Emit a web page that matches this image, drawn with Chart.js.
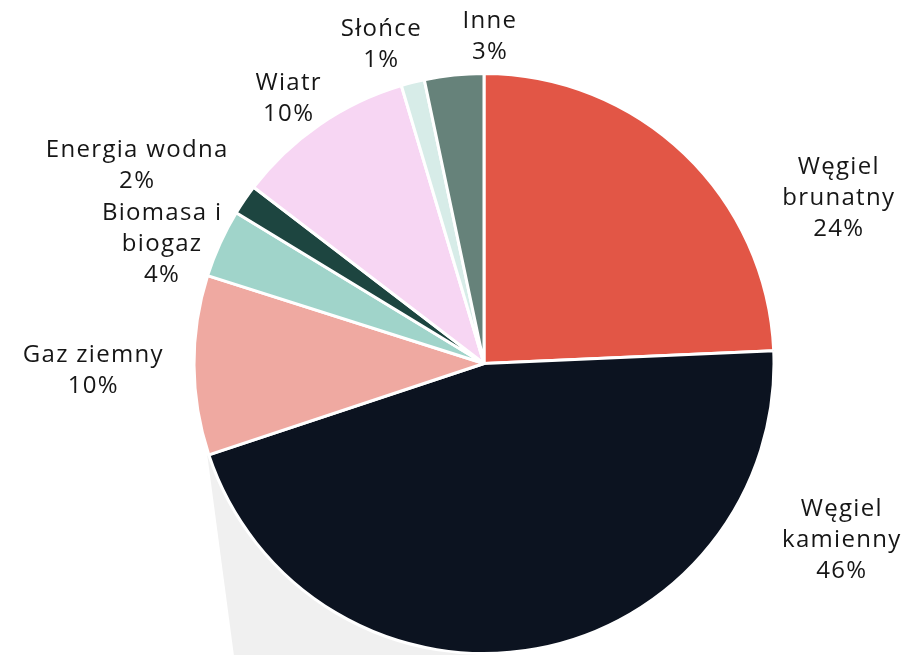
<!DOCTYPE html>
<html>
<head>
<meta charset="utf-8">
<script src="https://cdn.jsdelivr.net/npm/chart.js@4"></script>
<style>
  html, body { margin: 0; padding: 0; background: #ffffff; }
  #wrap { width: 910px; height: 655px; position: relative; }
</style>
</head>
<body>
<div id="wrap"><canvas id="c"></canvas></div>
<script>
// ---- data ----
const categories = ["Węgiel brunatny", "Węgiel kamienny", "Gaz ziemny", "Biomasa i biogaz", "Energia wodna", "Wiatr", "Słońce", "Inne"];
const labelLines = [["Węgiel", "brunatny"], ["Węgiel", "kamienny"], ["Gaz ziemny"], ["Biomasa i", "biogaz"], ["Energia wodna"], ["Wiatr"], ["Słońce"], ["Inne"]];
const shares = [24.3, 45.6, 10.0, 3.8, 1.7, 10.0, 1.3, 3.3];
const colors = ["#e25646", "#0c1320", "#efa9a1", "#a0d4ca", "#1d4540", "#f7d6f3", "#d7ece8", "#66827a"];

// ---- label layout (offsets from pie centre, in units of a 291px radius) ----
const labelOffsets = [[356, -166], [359, 177], [-392, 7], [-323, -120], [-348, -199], [-196, -266], [-103, -320], [6, -328]];

const FONT = '24px "Open Sans", sans-serif';

const shadowPlugin = {
  id: 'shadow',
  beforeDatasetsDraw(chart) {
    const meta = chart.getDatasetMeta(0);
    const arc = meta.data[1];
    if (!arc) return;
    const { x, y, outerRadius, endAngle } = arc.getProps(['x', 'y', 'outerRadius', 'endAngle'], true);
    const R = outerRadius + 1.5;
    const px = x + R * Math.cos(endAngle);
    const py = y + R * Math.sin(endAngle);
    const H = chart.height;
    const ctx = chart.ctx;
    ctx.save();
    ctx.fillStyle = '#f0f0f0';
    ctx.beginPath();
    ctx.moveTo(px, py);
    ctx.lineTo(px + (H - py) * 0.133, H);
    ctx.lineTo(x, H);
    ctx.lineTo(x, y);
    ctx.closePath();
    ctx.fill();
    ctx.restore();
  }
};

const labelPlugin = {
  id: 'outLabels',
  afterDatasetsDraw(chart) {
    const meta = chart.getDatasetMeta(0);
    const data = chart.data.datasets[0].data;
    const total = data.reduce((a, b) => a + b, 0);
    const ctx = chart.ctx;
    ctx.save();
    ctx.font = FONT;
    if ('letterSpacing' in ctx) ctx.letterSpacing = '1.3px';
    ctx.fillStyle = '#161616';
    ctx.textAlign = 'center';
    ctx.textBaseline = 'middle';
    const lh = 31;
    meta.data.forEach((arc, i) => {
      const { x, y, outerRadius } = arc.getProps(['x', 'y', 'outerRadius'], true);
      const s = outerRadius / 291;
      const cx = x + labelOffsets[i][0] * s;
      const cy = y + labelOffsets[i][1] * s;
      const lines = labelLines[i].concat([Math.round(data[i] / total * 100) + '%']);
      const top = cy - (lines.length - 1) * lh / 2;
      lines.forEach((t, k) => ctx.fillText(t, cx, top + k * lh));
    });
    ctx.restore();
  }
};

new Chart(document.getElementById('c'), {
  type: 'pie',
  data: {
    labels: categories,
    datasets: [{
      data: shares,
      backgroundColor: colors,
      borderColor: '#ffffff',
      borderWidth: 3
    }]
  },
  options: {
    responsive: true,
    maintainAspectRatio: false,
    animation: false,
    layout: { padding: { top: 72, left: 58, right: 0, bottom: 0 } },
    plugins: { legend: { display: false }, tooltip: { enabled: false } }
  },
  plugins: [shadowPlugin, labelPlugin]
});
</script>
</body>
</html>
